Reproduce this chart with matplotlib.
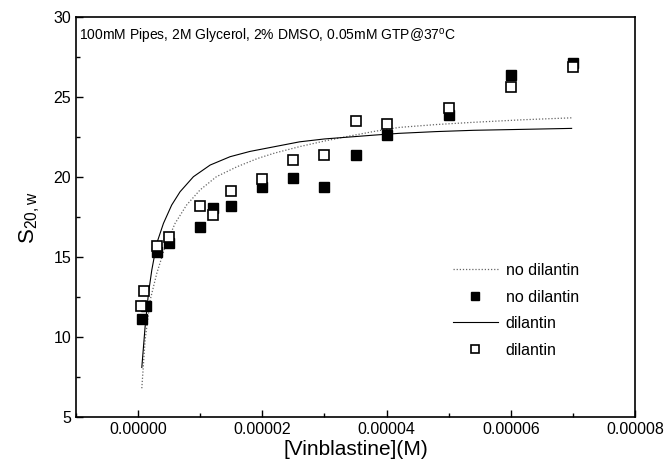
import matplotlib
matplotlib.use("Agg")
import matplotlib.pyplot as plt
from matplotlib.ticker import MultipleLocator, FormatStrFormatter

plt.rcParams['font.family'] = ['Liberation Sans', 'DejaVu Sans']

# measured points, [Vinblastine] in M
x_no = [0.6e-6, 1.3e-6, 3e-6, 5e-6, 1e-5, 1.2e-5, 1.5e-5, 2e-5, 2.5e-5, 3e-5, 3.5e-5, 4e-5, 5e-5, 6e-5, 7e-5]
s_no = [11.1, 11.95, 15.3, 15.85, 16.85, 18.05, 18.2, 19.4, 19.95, 19.4, 21.4, 22.65, 23.9, 26.35, 27.1]
x_dil = [0.5e-6, 1e-6, 3e-6, 5e-6, 1e-5, 1.2e-5, 1.5e-5, 2e-5, 2.5e-5, 3e-5, 3.5e-5, 4e-5, 5e-5, 6e-5, 7e-5]
s_dil = [11.95, 12.9, 15.7, 16.25, 18.2, 17.6, 19.15, 19.9, 21.05, 21.35, 23.5, 23.3, 24.3, 25.65, 26.85]

# fitted curves
xf_no = [0.59e-6, 1.12e-6, 1.93e-6, 3.0e-6, 4.34e-6, 5.94e-6, 7.8e-6, 9.96e-6, 12.6e-6, 15.9e-6,
         19.3e-6, 22e-6, 26e-6, 30e-6, 34e-6, 38e-6, 42e-6, 48e-6, 54e-6, 62e-6, 69.8e-6]
sf_no = [6.8, 9.8, 12.3, 13.98, 15.64, 17.1, 18.25, 19.19, 20.02, 20.64,
         21.17, 21.5, 21.9, 22.25, 22.56, 22.85, 23.1, 23.28, 23.42, 23.58, 23.7]
xf_dil = [0.59e-6, 1.12e-6, 1.66e-6, 2.2e-6, 3.0e-6, 4.07e-6, 5.4e-6, 6.75e-6, 8.9e-6, 11.6e-6,
          14.8e-6, 18e-6, 22e-6, 26e-6, 30e-6, 34e-6, 38e-6, 42e-6, 48e-6, 54e-6, 62e-6, 69.8e-6]
sf_dil = [8.1, 10.64, 12.73, 14.19, 15.86, 17.1, 18.25, 19.08, 20.02, 20.75,
          21.27, 21.6, 21.9, 22.2, 22.38, 22.5, 22.62, 22.73, 22.84, 22.92, 22.98, 23.04]

fig = plt.figure(figsize=(6.67, 4.66), dpi=100)
ax = fig.add_axes([0.114, 0.105, 0.838, 0.8585])

ax.plot(xf_no, sf_no, ls=(0, (1, 1.5)), color='0.4', lw=0.9, label='no dilantin')
ax.plot(x_no, s_no, 's', ms=7, color='black', mec='black', label='no dilantin')
ax.plot(xf_dil, sf_dil, '-', color='black', lw=0.8, label='dilantin')
ax.plot(x_dil, s_dil, 's', ms=7, mfc='white', mec='black', mew=1.2, label='dilantin')

ax.set_xlim(-1e-5, 8e-5)
ax.set_ylim(5, 30)
ax.xaxis.set_major_locator(MultipleLocator(2e-5))
ax.xaxis.set_minor_locator(MultipleLocator(1e-5))
ax.xaxis.set_major_formatter(FormatStrFormatter('%.5f'))
ax.yaxis.set_major_locator(MultipleLocator(5))
ax.yaxis.set_minor_locator(MultipleLocator(2.5))
ax.tick_params(which='both', direction='in', top=False, right=False, labelsize=11.5, width=1)
ax.tick_params(which='major', length=5)
ax.tick_params(which='minor', length=3)
for sp in ax.spines.values():
    sp.set_linewidth(1.2)

ax.set_xlabel('[Vinblastine](M)', fontsize=15, labelpad=2)
ax.set_ylabel(r'S$_\mathregular{20,w}$', fontsize=16, labelpad=8)
ax.text(0.005, 0.975, r'100mM Pipes, 2M Glycerol, 2% DMSO, 0.05mM GTP@37$^\mathregular{o}$C',
        transform=ax.transAxes, fontsize=10, va='top', ha='left')

ax.legend(loc='upper left', bbox_to_anchor=(0.66, 0.405), frameon=False, fontsize=11.5,
          handlelength=2.8, handletextpad=0.5, labelspacing=0.72, borderpad=0, markerscale=0.8)

fig.savefig('out.png', dpi=100)
